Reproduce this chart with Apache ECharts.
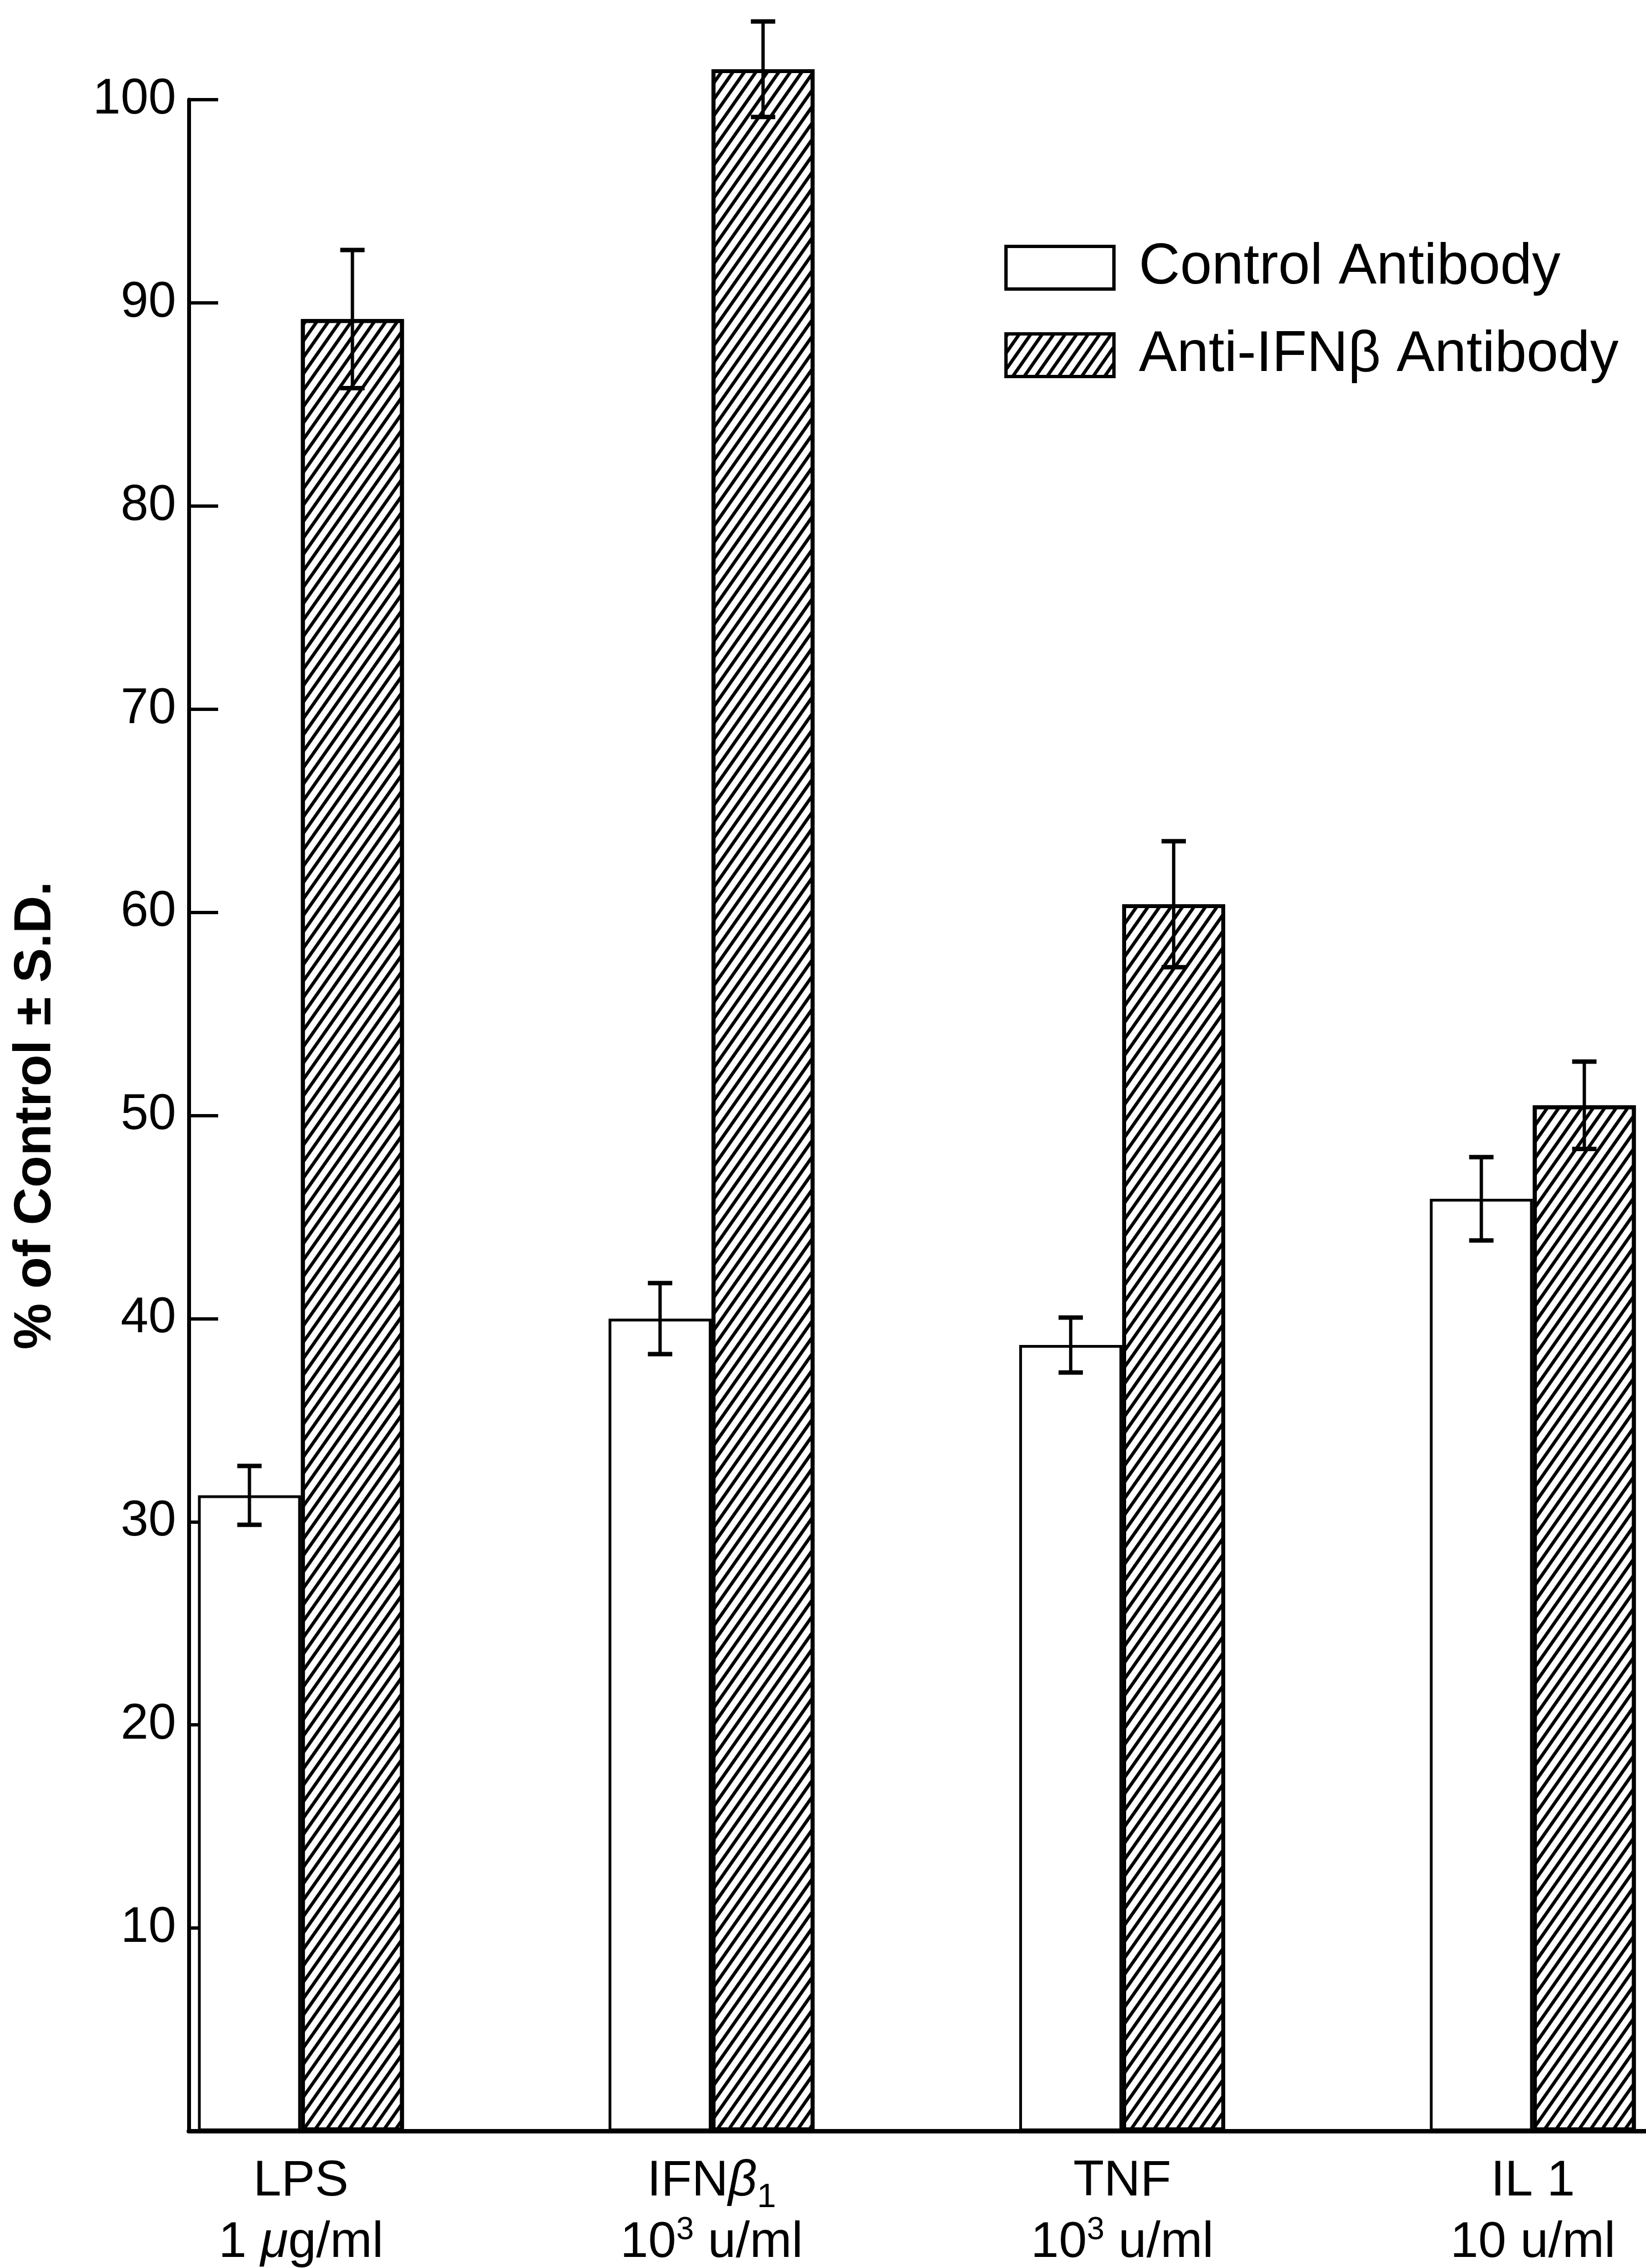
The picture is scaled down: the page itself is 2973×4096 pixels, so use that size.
<!DOCTYPE html>
<html>
<head>
<meta charset="utf-8">
<title>% of Control ± S.D.</title>
<script src="https://cdn.jsdelivr.net/npm/echarts@6.0.0/dist/echarts.min.js"></script>
<style>
  html, body { margin: 0; padding: 0; background: #fff; }
  #chart { width: 2973px; height: 4096px; }
</style>
</head>
<body>
<div id="chart"></div>
<script>
// data
const categories = ["LPS", "IFNβ1", "TNF", "IL 1"];
const seriesNames = ["Control Antibody", "Anti-IFNβ Antibody"];
const controlValues = [31.3, 40.0, 38.7, 45.9];
const controlSD = [1.45, 1.75, 1.35, 2.05];
const antiValues = [89.2, 101.5, 60.4, 50.5];
const antiSD = [3.4, 2.35, 3.1, 2.15];
const yTicks = [10, 20, 30, 40, 50, 60, 70, 80, 90, 100];
// x tick labels (rich text markup for sub/superscripts)
const xLabels = [
  "{n|LPS}\n{n|1 }{it|μ}{n|g/ml}",
  "{n|IFN}{it|β}{sub|1}\n{n|10}{sup|3}{n| u/ml}",
  "{n|TNF}\n{n|10}{sup|3}{n| u/ml}",
  "{n|IL 1}\n{n|10 u/ml}"
];

const FONT = "'Liberation Sans', Arial, Helvetica, sans-serif";
const BAR_W = 186;
const CAP_W = 44;

const chart = echarts.init(document.getElementById("chart"));

// position of category i on the value x axis
const xPos = (i) => i + 1;

function errorSeries(name, values, sds, offset) {
  return {
    type: "custom",
    name: name,
    silent: true,
    clip: false,
    z: 5,
    data: values.map((v, i) => [xPos(i), v, sds[i]]),
    encode: { x: 0, y: 1 },
    renderItem: function (params, api) {
      const x = api.coord([api.value(0), api.value(1)])[0] + offset;
      const yTop = api.coord([api.value(0), api.value(1) + api.value(2)])[1];
      const yBot = api.coord([api.value(0), api.value(1) - api.value(2)])[1];
      const h = CAP_W / 2;
      return {
        type: "group",
        children: [
          { type: "line", shape: { x1: x, y1: yTop, x2: x, y2: yBot }, style: { stroke: "#000", lineWidth: 6 } },
          { type: "line", shape: { x1: x - h, y1: yTop, x2: x + h, y2: yTop }, style: { stroke: "#000", lineWidth: 8 } },
          { type: "line", shape: { x1: x - h, y1: yBot, x2: x + h, y2: yBot }, style: { stroke: "#000", lineWidth: 8 } }
        ]
      };
    }
  };
}

const txt = { fontSize: 91, fontFamily: FONT, color: "#000", lineHeight: 111 };

const option = {
  backgroundColor: "#fff",
  animation: false,
  grid: { left: 341, right: 0, top: 180, bottom: 247, containLabel: false, outerBoundsMode: "none" },
  legend: {
    data: seriesNames,
    orient: "vertical",
    left: 1814,
    top: 432,
    padding: 0,
    itemGap: 55,
    itemWidth: 195,
    itemHeight: 77,
    icon: "rect",
    selectedMode: false,
    itemStyle: { borderColor: "#000", borderWidth: 6 },
    textStyle: { fontSize: 103, fontFamily: FONT, color: "#000", lineHeight: 102, padding: [0, 0, 0, 40] }
  },
  xAxis: {
    type: "value",
    min: 0.7269,
    max: 4.2756,
    axisLine: { show: true, onZero: false, lineStyle: { color: "#000", width: 8 } },
    axisTick: { show: false },
    splitLine: { show: false },
    axisLabel: {
      customValues: categories.map((c, i) => xPos(i)),
      formatter: (v) => xLabels[Math.round(v) - 1],
      margin: 35,
      color: "#000",
      fontSize: 91,
      fontFamily: FONT,
      lineHeight: 111,
      rich: {
        n: txt,
        it: Object.assign({}, txt, { fontStyle: "italic" }),
        sup: { fontSize: 57, fontFamily: FONT, color: "#000", lineHeight: 40, padding: [0, 0, 44, 0] },
        sub: { fontSize: 62, fontFamily: FONT, color: "#000", lineHeight: 40, padding: [58, 0, 0, 0] }
      }
    }
  },
  yAxis: {
    type: "value",
    min: 0,
    max: 100,
    interval: 10,
    name: "% of Control ± S.D.",
    nameLocation: "middle",
    nameRotate: 90,
    nameGap: 229,
    nameTextStyle: { fontSize: 94, fontWeight: "bold", fontFamily: FONT, color: "#000" },
    axisLine: { show: true, lineStyle: { color: "#000", width: 7 } },
    axisTick: { show: true, inside: true, length: 53, customValues: yTicks, lineStyle: { color: "#000", width: 6 } },
    axisLabel: { customValues: yTicks, fontSize: 90, fontFamily: FONT, color: "#000", margin: 23 },
    splitLine: { show: false }
  },
  series: [
    {
      type: "bar",
      name: seriesNames[0],
      barWidth: BAR_W,
      barGap: "0%",
      clip: false,
      data: controlValues.map((v, i) => [xPos(i), v]),
      itemStyle: { color: "#fff", borderColor: "#000", borderWidth: 5 }
    },
    {
      type: "bar",
      name: seriesNames[1],
      barWidth: BAR_W,
      barGap: "0%",
      clip: false,
      data: antiValues.map((v, i) => [xPos(i), v]),
      itemStyle: {
        color: "#fff",
        borderColor: "#000",
        borderWidth: 7,
        decal: {
          symbol: "rect",
          symbolSize: 1,
          color: "#000",
          dashArrayX: [1, 0],
          dashArrayY: [6, 11],
          rotation: (-55 * Math.PI) / 180
        }
      }
    },
    errorSeries("ctrlSD", controlValues, controlSD, -BAR_W / 2),
    errorSeries("antiSD", antiValues, antiSD, BAR_W / 2)
  ]
};

chart.setOption(option);
</script>
</body>
</html>
